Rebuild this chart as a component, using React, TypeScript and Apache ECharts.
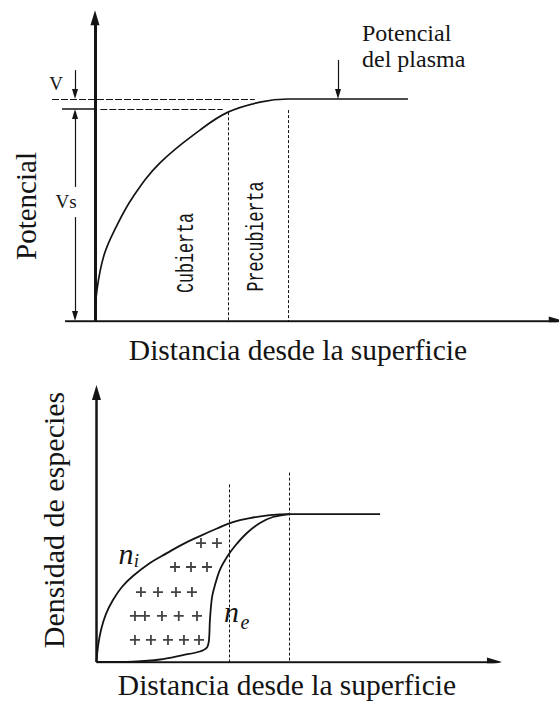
import React, { useEffect, useRef } from "react";
import * as echarts from "echarts";

type P = [number, number];

// Electric potential from the wall into the plasma (distance, potential)
const potentialCurve: P[] = [
  [0, 0], [0.15, 1.4], [0.68, 2.97], [1.58, 4.23], [2.85, 5.59], [4.88, 7.12],
  [7.88, 8.6], [9.99, 9.41], [12.39, 9.86], [14.5, 10], [23.5, 10],
];
const plasmaPotential = 10;
const sheathEdgePotential = 9.55;
const sheathEdge = 10;
const presheathEdge = 14.5;

// Ion and electron densities (distance, n / n0)
const ionDensity: P[] = [
  [0, 0], [0.11, 0.101], [0.34, 0.216], [0.71, 0.324], [1.24, 0.419], [1.91, 0.507],
  [2.74, 0.581], [4.02, 0.669], [5.29, 0.736], [6.5, 0.797], [7.77, 0.851],
  [9.05, 0.902], [10.25, 0.946], [11.53, 0.973], [13.03, 0.993], [14.5, 1], [21.3, 1],
];
const electronDensity: P[] = [
  [0, 0], [2.74, 0.003], [4.77, 0.017], [6.5, 0.047], [7.77, 0.071], [8.3, 0.098],
  [8.45, 0.149], [8.52, 0.284], [8.67, 0.432], [8.9, 0.52], [9.27, 0.622],
  [9.8, 0.709], [10.4, 0.784], [11.3, 0.872], [12.28, 0.939], [13.25, 0.98], [14.5, 1],
];

// Net positive space charge inside the sheath
const spaceCharge: P[] = [
  [7.85, 0.804], [9.05, 0.804],
  [5.9, 0.642], [7.1, 0.642], [8.3, 0.642],
  [3.34, 0.473], [4.62, 0.473], [5.97, 0.473], [7.17, 0.473],
  [2.89, 0.311], [3.64, 0.311], [4.92, 0.311], [6.18, 0.311], [7.55, 0.311],
  [2.89, 0.149], [4.09, 0.149], [5.37, 0.149], [6.57, 0.149], [7.7, 0.149],
];

const SERIF = "'Liberation Serif', 'Times New Roman', serif";
const MONO = "'Liberation Mono', 'Courier New', monospace";
const INK = "#141414";

const TOP = { left: 40, top: 0, width: 518, height: 321, x: [-4.13, 34.77], y: [0, 14.46] };
const BOT = { left: 40, top: 372, width: 518, height: 290, x: [-4.24, 34.66], y: [0, 1.96] };
type G = typeof TOP;

// pull the segment end back so the arrow head's tip sits on `tip`
function arrow(from: P, tip: P, g: G, head: number): P[] {
  const sx = g.width / (g.x[1] - g.x[0]);
  const sy = g.height / (g.y[1] - g.y[0]);
  const dx = (tip[0] - from[0]) * sx;
  const dy = (tip[1] - from[1]) * sy;
  const k = head / 2 / Math.hypot(dx, dy);
  return [from, [tip[0] - (tip[0] - from[0]) * k, tip[1] - (tip[1] - from[1]) * k]];
}

const PLUS = "path://M3.7,0H5.3V3.7H9V5.3H5.3V9H3.7V5.3H0V3.7H3.7Z";

function linesSeries(idx: number, data: any[], width: number, head: number[] | null, extra: any = {}) {
  return {
    type: "lines",
    coordinateSystem: "cartesian2d",
    xAxisIndex: idx,
    yAxisIndex: idx,
    polyline: false,
    silent: true,
    symbol: head ? ["none", "triangle"] : ["none", "none"],
    symbolSize: head ? [0, head] : 0,
    lineStyle: { color: INK, width, opacity: 1, curveness: 0, ...extra },
    data: data.map((c) => ({ coords: c })),
  };
}

function curve(idx: number, data: P[], width: number, smooth: number) {
  return {
    type: "line",
    xAxisIndex: idx,
    yAxisIndex: idx,
    data,
    smooth,
    showSymbol: false,
    symbol: "none",
    silent: true,
    lineStyle: { color: INK, width },
  };
}

function text(x: number, y: number, t: string, size: number, opts: any = {}) {
  const { family = SERIF, italic = false, align = "center", rotate = 0, scaleY = 1 } = opts;
  return {
    type: "text",
    x,
    y,
    rotation: rotate,
    scaleY,
    silent: true,
    style: {
      text: t,
      fontSize: size,
      fontFamily: family,
      fontStyle: italic ? "italic" : "normal",
      fill: INK,
      align,
      verticalAlign: "middle",
    },
  };
}

export default function App() {
  const ref = useRef<HTMLDivElement>(null);

  useEffect(() => {
    if (!ref.current) return;
    const chart = echarts.init(ref.current, null, { renderer: "svg" });
    const axisX = (g: G, i: number) => ({ gridIndex: i, type: "value", min: g.x[0], max: g.x[1], show: false });
    const axisY = (g: G, i: number) => ({ gridIndex: i, type: "value", min: g.y[0], max: g.y[1], show: false });
    const AX = [9, 15];
    const SMALL = [6, 10];

    chart.setOption({
      animation: false,
      backgroundColor: "#ffffff",
      grid: [
        { left: TOP.left, top: TOP.top, width: TOP.width, height: TOP.height },
        { left: BOT.left, top: BOT.top, width: BOT.width, height: BOT.height },
      ],
      xAxis: [axisX(TOP, 0), axisX(BOT, 1)],
      yAxis: [axisY(TOP, 0), axisY(BOT, 1)],
      series: [
        // potential panel
        linesSeries(0, [arrow([-2.25, 0], [35.2, 0], TOP, 15)], 2.5, AX),
        linesSeries(0, [arrow([0, 0], [0, 14.0], TOP, 15)], 3, AX),
        linesSeries(0, [
          arrow([-1.5, 11.3], [-1.5, plasmaPotential], TOP, 10),
          arrow([-1.5, 6.04], [-1.5, sheathEdgePotential], TOP, 10),
          arrow([-1.5, 4.68], [-1.5, 0], TOP, 10),
          arrow([18.25, 11.76], [18.25, plasmaPotential], TOP, 10),
        ], 1.2, SMALL),
        linesSeries(0, [[[-2.48, sheathEdgePotential], [0, sheathEdgePotential]]], 1.5, null),
        linesSeries(0, [
          [[-3.23, plasmaPotential], [12, plasmaPotential]],
          [[0.4, sheathEdgePotential], [9.6, sheathEdgePotential]],
        ], 1, null, { type: [7, 2] }),
        linesSeries(0, [
          [[sheathEdge, 9.4], [sheathEdge, 0]],
          [[presheathEdge, 9.5], [presheathEdge, 0]],
        ], 1, null, { type: [3, 2] }),
        curve(0, potentialCurve, 1.7, 0.4),
        // density panel
        linesSeries(1, [
          arrow([0, 0], [30.45, 0], BOT, 15),
          arrow([0, 0], [0, 1.872], BOT, 15),
        ], 2.5, AX),
        linesSeries(1, [
          [[sheathEdge, 1.2], [sheathEdge, 0]],
          [[presheathEdge, 1.28], [presheathEdge, 0]],
        ], 1, null, { type: [3, 2] }),
        curve(1, ionDensity, 1.8, 0.4),
        curve(1, electronDensity, 1.8, 0.3),
        {
          type: "scatter",
          xAxisIndex: 1,
          yAxisIndex: 1,
          data: spaceCharge,
          symbol: PLUS,
          symbolSize: 10,
          silent: true,
          itemStyle: { color: INK },
        },
      ],
      graphic: [
        text(26, 206, "Potencial", 29, { rotate: Math.PI / 2 }),
        text(298, 350, "Distancia desde la superficie", 29.5),
        text(56, 83, "V", 19),
        text(66, 201, "Vs", 19),
        text(362, 33, "Potencial", 24, { align: "left" }),
        text(362, 59, "del plasma", 24, { align: "left" }),
        text(186.5, 253, "Cubierta", 16.7, { family: MONO, rotate: Math.PI / 2, scaleY: 1.4 }),
        text(256.5, 236.5, "Precubierta", 16.7, { family: MONO, rotate: Math.PI / 2, scaleY: 1.4 }),
        text(53, 520, "Densidad de especies", 30, { rotate: Math.PI / 2 }),
        text(287, 685, "Distancia desde la superficie", 29.5),
        text(126, 553, "n", 30, { italic: true }),
        text(136.5, 560, "i", 19, { italic: true }),
        text(231.5, 611, "n", 30, { italic: true }),
        text(245, 622, "e", 20, { italic: true }),
      ],
    });
    return () => chart.dispose();
  }, []);

  return (
    <div
      ref={ref}
      style={{ position: "absolute", left: 0, top: 0, width: 559, height: 706, background: "#fff" }}
    />
  );
}
